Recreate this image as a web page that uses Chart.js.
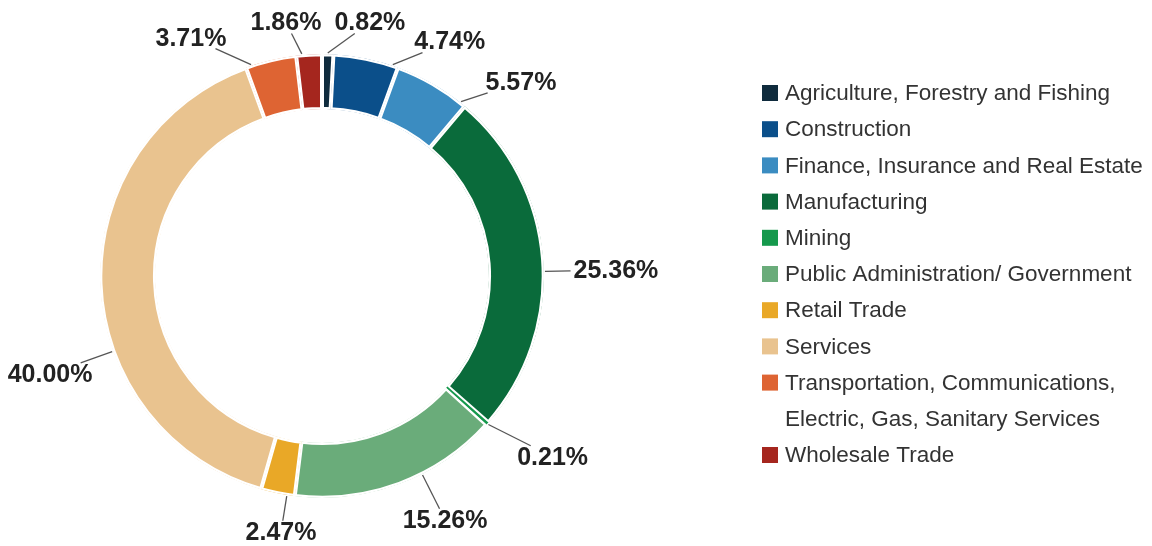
<!DOCTYPE html>
<html>
<head>
<meta charset="utf-8">
<title>Employment by Industry</title>
<script src="https://cdn.jsdelivr.net/npm/chart.js@4/dist/chart.umd.min.js"></script>
<style>
  html, body { margin: 0; padding: 0; background: #fff; }
  #wrap { position: relative; width: 1152px; height: 546px; }
</style>
</head>
<body>
<div id="wrap"><canvas id="industryChart"></canvas></div>
<script>
// --- data ---
const industries = [
  "Agriculture, Forestry and Fishing",
  "Construction",
  "Finance, Insurance and Real Estate",
  "Manufacturing",
  "Mining",
  "Public Administration/ Government",
  "Retail Trade",
  "Services",
  "Transportation, Communications, Electric, Gas, Sanitary Services",
  "Wholesale Trade",
];
const shares = [0.82, 4.74, 5.57, 25.36, 0.21, 15.26, 2.47, 40.0, 3.71, 1.86];
const valueLabels = ["0.82%", "4.74%", "5.57%", "25.36%", "0.21%", "15.26%", "2.47%", "40.00%", "3.71%", "1.86%"];

const sliceColors = [
  "#0f2b3d", "#0b4f8a", "#3b8cc1", "#0a6b3b", "#15994c",
  "#6aac7a", "#e9a827", "#e9c38f", "#de6433", "#a5261e",
];

// where each value label sits: degrees clockwise from top, distance from centre
const labelAngle = [10.7, 28.6, 45.7, 88.8, 128.1, 153.2, 189.1, 250.2, -28.8, -8.1];
const labelDist = [258, 267, 278, 294, 293, 273, 259, 289, 272, 256];

const LABEL_FONT = "bold 25px 'Liberation Sans', Arial, sans-serif";
const LEGEND_FONT = "22.5px 'Liberation Sans', Arial, sans-serif";

// value labels with leader lines
const calloutPlugin = {
  id: "callouts",
  afterDatasetsDraw(chart) {
    const ctx = chart.ctx;
    const arcs = chart.getDatasetMeta(0).data;
    ctx.save();
    ctx.font = LABEL_FONT;
    ctx.textAlign = "center";
    ctx.textBaseline = "middle";
    arcs.forEach((arc, i) => {
      const { x, y, startAngle, endAngle, outerRadius } = arc.getProps(
        ["x", "y", "startAngle", "endAngle", "outerRadius"], true);
      let a = (labelAngle[i] - 90) * Math.PI / 180;
      // text centre
      const tx = x + labelDist[i] * Math.cos(a);
      const ty = y + labelDist[i] * Math.sin(a);
      // line starts on the slice, as close to the label direction as the slice allows
      while (a < startAngle - Math.PI) a += Math.PI * 2;
      while (a > endAngle + Math.PI) a -= Math.PI * 2;
      const span = endAngle - startAngle;
      const margin = Math.min(1.5 * Math.PI / 180, span / 2);
      const la = Math.min(Math.max(a, startAngle + margin), endAngle - margin);
      const sx = x + (outerRadius + 1) * Math.cos(la);
      const sy = y + (outerRadius + 1) * Math.sin(la);
      // line ends at the text box edge
      const w = ctx.measureText(valueLabels[i]).width / 2 + 3;
      const h = 11;
      const dx = sx - tx, dy = sy - ty;
      let t = 1;
      if (dx !== 0) t = Math.min(t, w / Math.abs(dx));
      if (dy !== 0) t = Math.min(t, h / Math.abs(dy));
      const ex = tx + dx * t, ey = ty + dy * t;
      ctx.strokeStyle = "#555";
      ctx.lineWidth = 1.3;
      ctx.beginPath();
      ctx.moveTo(sx, sy);
      ctx.lineTo(ex, ey);
      ctx.stroke();
      ctx.fillStyle = "#222";
      ctx.fillText(valueLabels[i], tx, ty + 1);
    });
    ctx.restore();
  },
};

// legend on the right, long names wrapped
const legendPlugin = {
  id: "sideLegend",
  afterDraw(chart) {
    const ctx = chart.ctx;
    const left = 762, textX = 785, top = 93, rowH = 36.2, maxW = 365, box = 16;
    ctx.save();
    ctx.font = LEGEND_FONT;
    ctx.textBaseline = "middle";
    ctx.textAlign = "left";
    let row = 0;
    industries.forEach((name, i) => {
      const lines = [];
      let cur = "";
      name.split(" ").forEach((word) => {
        const test = cur ? cur + " " + word : word;
        if (cur && ctx.measureText(test).width > maxW) {
          lines.push(cur);
          cur = word;
        } else cur = test;
      });
      lines.push(cur);
      const y0 = top + row * rowH;
      ctx.fillStyle = sliceColors[i];
      ctx.fillRect(left, y0 - box / 2, box, box);
      ctx.fillStyle = "#333";
      lines.forEach((ln, k) => ctx.fillText(ln, textX, y0 + k * rowH + 1));
      row += lines.length;
    });
    ctx.restore();
  },
};

const ctxIndustry = document.getElementById("industryChart");

new Chart(ctxIndustry, {
  type: "doughnut",
  data: {
    labels: industries,
    datasets: [
      {
        data: shares,
        backgroundColor: sliceColors,
        borderColor: "#ffffff",
        borderWidth: shares.map((v) => (v < 0.5 ? 0 : 2)),
        borderAlign: "inner",
      },
    ],
  },
  options: {
    responsive: true,
    maintainAspectRatio: false,
    animation: false,
    cutout: "75.1%",
    layout: { padding: { left: 100, right: 608, top: 54, bottom: 48 } },
    plugins: {
      legend: { display: false },
      tooltip: { enabled: false },
    },
  },
  plugins: [calloutPlugin, legendPlugin],
});
</script>
</body>
</html>
